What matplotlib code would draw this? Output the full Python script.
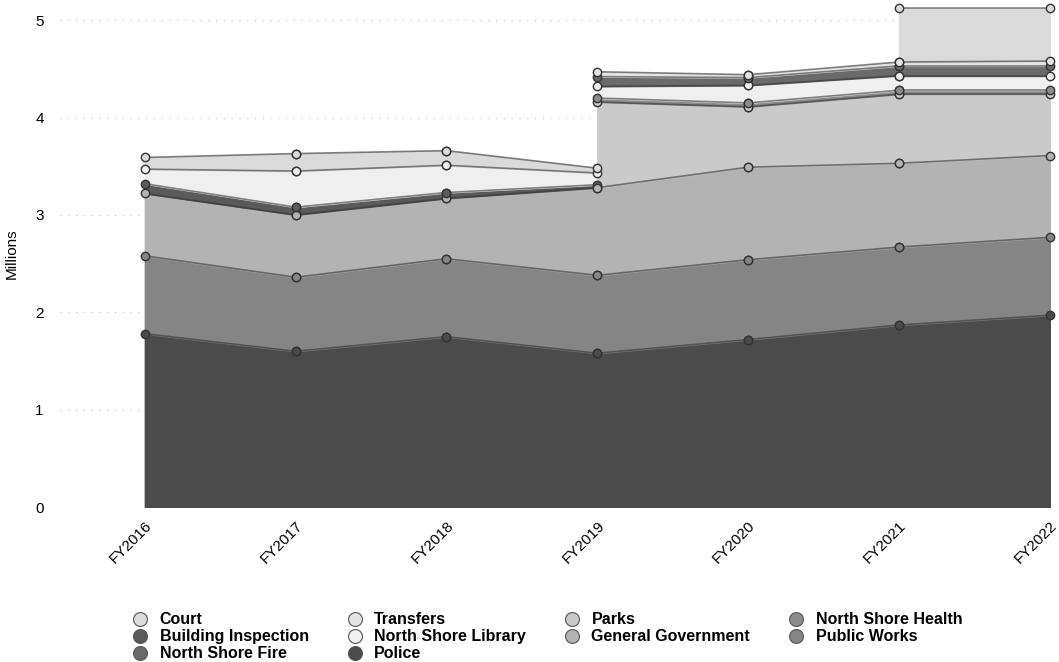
import numpy as np
import matplotlib
matplotlib.use("Agg")
import matplotlib.pyplot as plt
from matplotlib.lines import Line2D

years = ["FY2016", "FY2017", "FY2018", "FY2019", "FY2020", "FY2021", "FY2022"]
nan = np.nan

# values in millions, NaN where a department has no figure for that year
police = [1.78, 1.60, 1.75, 1.58, 1.72, 1.87, 1.97]
public_works = [0.80, 0.76, 0.80, 0.80, 0.82, 0.80, 0.80]
general_government = [0.64, 0.64, 0.62, 0.90, 0.95, 0.86, 0.84]
parks = [nan, nan, nan, 0.88, 0.62, 0.71, 0.63]
north_shore_health = [nan, nan, nan, 0.04, 0.04, 0.04, 0.04]
building_inspection = [0.10, 0.08, 0.06, 0.03, nan, nan, nan]
north_shore_library = [0.15, 0.37, 0.28, 0.12, 0.18, 0.15, 0.15]
north_shore_fire = [nan, nan, nan, 0.10, 0.08, 0.10, 0.10]
transfers = [nan, nan, nan, 0.05, 0.03, 0.04, 0.05]
court = [0.12, 0.18, 0.15, 0.05, nan, 0.55, 0.54]

# stacking order, bottom to top
stack = [
    ("Police", police, "#4b4b4b"),
    ("Public Works", public_works, "#858585"),
    ("General Government", general_government, "#b3b3b3"),
    ("Parks", parks, "#cacaca"),
    ("North Shore Health", north_shore_health, "#8c8c8c"),
    ("Building Inspection", building_inspection, "#5a5a5a"),
    ("North Shore Library", north_shore_library, "#efefef"),
    ("North Shore Fire", north_shore_fire, "#6a6a6a"),
    ("Transfers", transfers, "#e3e3e3"),
    ("Court", court, "#dadada"),
]
colors = {name: c for name, _, c in stack}

legend_order = ["Court", "Building Inspection", "North Shore Fire",
                "Transfers", "North Shore Library", "Police",
                "Parks", "General Government",
                "North Shore Health", "Public Works"]

plt.rcParams["font.family"] = ["Liberation Sans", "DejaVu Sans"]

fig = plt.figure(figsize=(10.59, 6.62), dpi=100)
ax = fig.add_axes([0.057, 0.234, 0.94, 0.765])

# draw each segment between two years, stacking only departments present at both ends
for i in range(len(years) - 1):
    xs = [i, i + 1]
    bottom = np.zeros(2)
    for name, vals, c in stack:
        seg = np.array(vals[i:i + 2], dtype=float)
        if np.isnan(seg).any():
            continue
        top = bottom + seg
        ax.fill_between(xs, bottom, top, facecolor=c, edgecolor=c, lw=1.0, zorder=2)
        ax.plot(xs, top, color="#333333", lw=1.2, alpha=0.6, zorder=3)
        ax.plot(xs, top, "o", ms=6, mfc=c, mec="#333333", mew=1.0, zorder=4)
        bottom = top

ax.set_xlim(-0.56, 6.04)
ax.set_ylim(0, 5.2)
ax.set_xticks(range(len(years)))
ax.set_xticklabels(years, rotation=45, ha="right", rotation_mode="anchor", fontsize=11)
ax.set_yticks([0, 1, 2, 3, 4, 5])
ax.tick_params(length=0, pad=8, labelsize=11)
ax.tick_params(axis="y", pad=12)
ax.set_ylabel("Millions", fontsize=11, labelpad=12)
ax.grid(axis="y", color="#bbbbbb", lw=0.8, ls=(0, (1, 6)), zorder=0)
for sp in ax.spines.values():
    sp.set_visible(False)

handles = [Line2D([], [], ls="", marker="o", ms=10, mfc=colors[n],
                  mec="#555555", mew=0.8) for n in legend_order]
fig.legend(handles, legend_order, loc="upper left", bbox_to_anchor=(0.113, 0.087),
           ncol=4, frameon=False, handletextpad=0.4, handlelength=1.6,
           columnspacing=2.1, labelspacing=0.12, borderpad=0,
           prop={"size": 11.5, "weight": "bold"})

fig.savefig("out.png", dpi=100)
